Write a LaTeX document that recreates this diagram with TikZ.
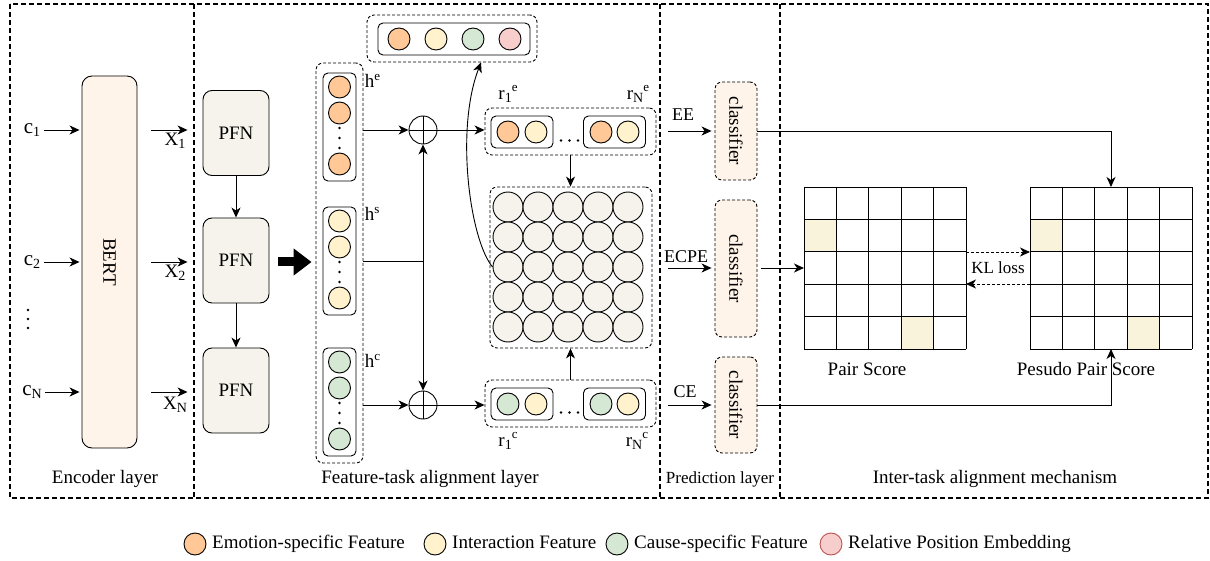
\documentclass[tikz,border=0pt]{standalone}
\usepackage{fontspec}
\setmainfont{Liberation Serif}
\usetikzlibrary{arrows.meta,positioning}

\definecolor{emo}{HTML}{FFC896}
\definecolor{inter}{HTML}{FFF2CC}
\definecolor{cause}{HTML}{D5E8D4}
\definecolor{pos}{HTML}{F8CECC}
\definecolor{posdraw}{HTML}{B85450}
\definecolor{bertfill}{HTML}{FFF4E9}
\definecolor{pfnfill}{HTML}{F5F3EB}
\definecolor{gridfill}{HTML}{F5F3EB}
\definecolor{hit}{HTML}{FAF3DC}

% index sizes that follow the big picture font
\newcommand{\lowidx}[1]{\raisebox{-0.35ex}{\fontsize{14}{14}\selectfont #1}}
\newcommand{\highidx}[1]{\raisebox{0.85ex}{\fontsize{13}{13}\selectfont #1}}

\begin{document}
\begin{tikzpicture}[x=1pt, y=-1pt, line width=0.9pt,
  font=\fontsize{19}{22}\selectfont,
  >={Stealth[length=10pt,width=9pt,inset=3pt]},
  frame/.style={draw, line width=1.2pt, dash pattern=on 5pt off 3pt},
  group/.style={draw, rounded corners=7pt, dash pattern=on 3pt off 2pt},
  vec/.style={draw, rounded corners=5pt, inner sep=0pt},
  feat/.style={circle, draw, inner sep=0pt, minimum size=22pt},
  cell/.style={circle, draw, inner sep=0pt, fill=gridfill, minimum size=30pt},
  block/.style={draw, rounded corners=9pt, fill=pfnfill, minimum width=66pt, minimum height=85pt},
  clf/.style={draw, rounded corners=7pt, dash pattern=on 3pt off 2pt, fill=bertfill, minimum width=42pt},
  dot/.style={circle, fill, inner sep=0pt, minimum size=2.6pt},
  small/.style={font=\fontsize{18}{21}\selectfont},
  leg/.style={anchor=west, text height=13pt, text depth=4pt}]

\useasboundingbox (0,0) rectangle (1210,561);

% frames
\draw[frame] (10,4) rectangle (1208,498);
\foreach \x in {194,660,780} \draw[frame] (\x,4) -- (\x,498);
\node (enclbl) at (105,479) {Encoder layer};
\node (featlbl) at (430,479) {Feature-task alignment layer};
\node[font=\fontsize{17}{20}\selectfont] (predlbl) at (720,479) {Prediction layer};
\node (interlbl) at (995,479) {Inter-task alignment mechanism};

% encoder layer
\node[draw, rounded corners=10pt, fill=bertfill, minimum width=55pt, minimum height=372pt] (bert) at (109.5,262) {};
\node[rotate=-90] (berttxt) at (bert) {BERT};
\node[font=\fontsize{21}{24}\selectfont] (c1) at (32,130) {c\lowidx{1}};
\node[font=\fontsize{21}{24}\selectfont] (c2) at (32,262) {c\lowidx{2}};
\node[font=\fontsize{21}{24}\selectfont] (cN) at (32,392) {c\lowidx{N}};
\foreach \d in {310,319,328} \node[dot] (cd\d) at (28,\d) {};
\foreach \c in {c1,c2,cN} \draw[->, shorten >=2pt] (\c.east) -- (\c.east -| bert.west);

\node[block] (pfn1) at (236,133) {PFN};
\node[block] (pfn2) at (236,260.5) {PFN};
\node[block] (pfn3) at (236,390.5) {PFN};
\draw[->] (pfn1) -- (pfn2);
\draw[->] (pfn2) -- (pfn3);

\draw[->] ([xshift=14]bert.east |- c1) -- ([xshift=-15]pfn1.west |- c1);
\draw[->] ([xshift=14]bert.east |- c2) -- ([xshift=-15]pfn1.west |- c2);
\draw[->] ([xshift=14]bert.east |- cN) -- ([xshift=-15]pfn1.west |- cN);
\node (x1) at (175,141) {X\lowidx{1}};
\node (x2) at (175,273) {X\lowidx{2}};
\node (xN) at (175,405) {X\lowidx{N}};

% feature-task alignment layer
\node[group, minimum width=47pt, minimum height=400pt] (featcol) at (339.5,263) {};
\draw[line width=9pt, -{Triangle[length=18pt,width=26pt]}] ([xshift=9]pfn2.east |- c2) -- ([xshift=-4]featcol.west |- c2);

\foreach \nm/\y/\col in {e/87/emo, s/221/inter, c/362/cause} {
  \node[vec, minimum width=33pt, minimum height=108pt] (h\nm) at (339.5,\y+40) {};
  \node[feat, fill=\col] (h\nm1) at (339.5,\y) {};
  \node[feat, fill=\col] (h\nm2) at (339.5,\y+26) {};
  \node[feat, fill=\col] (h\nm3) at (339.5,\y+77) {};
  \foreach \d in {41,51,61} \node[dot] (h\nm d\d) at (339.5,\y+\d) {};
}
\node[anchor=west] (lblhe) at (361,81) {h\highidx{e}};
\node[anchor=west] (lblhs) at (361,214) {h\highidx{s}};
\node[anchor=west] (lblhc) at (361,361) {h\highidx{c}};

\node[circle, draw, minimum size=28pt, inner sep=0pt] (op1) at (423,130) {};
\node[circle, draw, minimum size=28pt, inner sep=0pt] (op2) at (423,405) {};
\draw (op1.north) -- (op1.south) (op1.west) -- (op1.east);
\draw (op2.north) -- (op2.south) (op2.west) -- (op2.east);

% position embedding
\node[group, minimum width=170pt, minimum height=47pt] (posgrp) at (452,38.5) {};
\node[vec, minimum width=152pt, minimum height=32pt] (posvec) at (454,39) {};
\foreach \i/\col in {1/emo,2/inter,3/cause,4/pos} \node[feat, fill=\col] (pv\i) at (362+37*\i,39) {};

% pair representations
\foreach \g/\y/\col in {e/131.5/emo, c/403.5/cause} {
  \node[group, minimum width=171pt, minimum height=47pt] (r\g) at (570.5,\y) {};
  \node[vec, minimum width=62pt, minimum height=32pt] (r\g a) at (522,\y+0.5) {};
  \node[vec, minimum width=62pt, minimum height=32pt] (r\g n) at (614.5,\y+0.5) {};
  \node[feat, fill=\col] (r\g a1) at (508,\y+0.5) {};
  \node[feat, fill=inter] (r\g a2) at (536,\y+0.5) {};
  \node[feat, fill=\col] (r\g n1) at (601,\y+0.5) {};
  \node[feat, fill=inter] (r\g n2) at (628,\y+0.5) {};
  \foreach \d in {561,569.5,578} \node[dot] (r\g d\d) at (\d,\y+9) {};
}
\node (lblr1e) at (508,94) {r\lowidx{1}\highidx{e}};
\node (lblrNe) at (638,94) {r\lowidx{N}\highidx{e}};
\node (lblr1c) at (508,441) {r\lowidx{1}\highidx{c}};
\node (lblrNc) at (637,441) {r\lowidx{N}\highidx{c}};

\node[group, minimum width=162pt, minimum height=161pt] (grid) at (571,267.5) {};
\foreach \i in {1,...,5}
  \foreach \j in {1,...,5}
    \node[cell] (g\j\i) at (478+30*\i,177+30*\j) {};

\draw[->] (featcol.east |- op1) -- (op1.west);
\draw[->] (op1.east) -- (re.west |- op1);
\draw (featcol.east |- hs) -- (op1 |- hs);
\draw[->] (op1 |- hs) -- (op1.south);
\draw[->] (op1 |- hs) -- (op2.north);
\draw[->] (featcol.east |- op2) -- (op2.west);
\draw[->] (op2.east) -- (rc.west |- op2);
\draw[->] (re.south) -- (re.south |- grid.north);
\draw[->] (rc.north) -- (rc.north |- grid.south);
\draw[->] (g31.west) .. controls (470,240) and (455,130) .. ([xshift=29]posgrp.south);

% prediction layer
\node[clf, minimum height=98pt] (clf1) at (736,131) {};
\node[clf, minimum height=137pt] (clf2) at (736,268.5) {};
\node[clf, minimum height=96pt] (clf3) at (736,405) {};
\foreach \k in {1,2,3} \node[rotate=-90] (clf\k t) at (clf\k) {classifier};

% inter-task alignment
\foreach \gx in {804,1030} {
  \fill[hit] (\gx,219.4) rectangle ++(32.4,32.4);
  \fill[hit] (\gx+97.2,316.6) rectangle ++(32.4,32.4);
  \foreach \k in {0,...,5} {
    \draw (\gx+32.4*\k,187) -- ++(0,162);
    \draw (\gx,187+32.4*\k) -- ++(162,0);
  }
}
\node[minimum width=162pt, minimum height=162pt, inner sep=0pt, outer sep=0pt] (pair) at (885,268) {};
\node[minimum width=162pt, minimum height=162pt, inner sep=0pt, outer sep=0pt] (pseudo) at (1111,268) {};
\node (pairlbl) at (867,369) {Pair Score};
\node (pseudolbl) at (1086,369) {Pesudo Pair Score};

\coordinate (predl) at (668,0);
\draw[->] (predl |- clf1) -- ([xshift=-3]clf1.west);
\draw[->] (predl |- pair) -- ([xshift=-3]clf2.west |- pair);
\draw[->] (predl |- clf3) -- ([xshift=-3]clf3.west);
\node[small] (ee) at (683,115) {EE};
\node[small] (ecpe) at (686,257) {ECPE};
\node[small] (ce) at (685,392) {CE};

\draw[->] (clf1.east) -| (pseudo.north);
\draw[->] ([xshift=4]clf2.east |- pair) -- (pair.west);
\draw[->] (clf3.east) -| (pseudo.south);

\draw[->, dash pattern=on 3pt off 2pt] ([yshift=16]pair.east) -- ([yshift=16]pseudo.west);
\draw[->, dash pattern=on 3pt off 2pt] ([yshift=-16]pseudo.west) -- ([yshift=-16]pair.east);
\node[font=\fontsize{17}{20}\selectfont] (kl) at (998,268) {KL loss};

% legend
\foreach \i/\col/\dc/\x/\txt in {1/emo/black/195/Emotion-specific Feature,
    2/inter/black/435/Interaction Feature,
    3/cause/black/617/Cause-specific Feature,
    4/pos/posdraw/831/Relative Position Embedding} {
  \node[feat, fill=\col, draw=\dc] (lg\i) at (\x,544) {};
  \node[leg] (lg\i t) at ([xshift=2]lg\i.east) {\txt};
}

\end{tikzpicture}
\end{document}
